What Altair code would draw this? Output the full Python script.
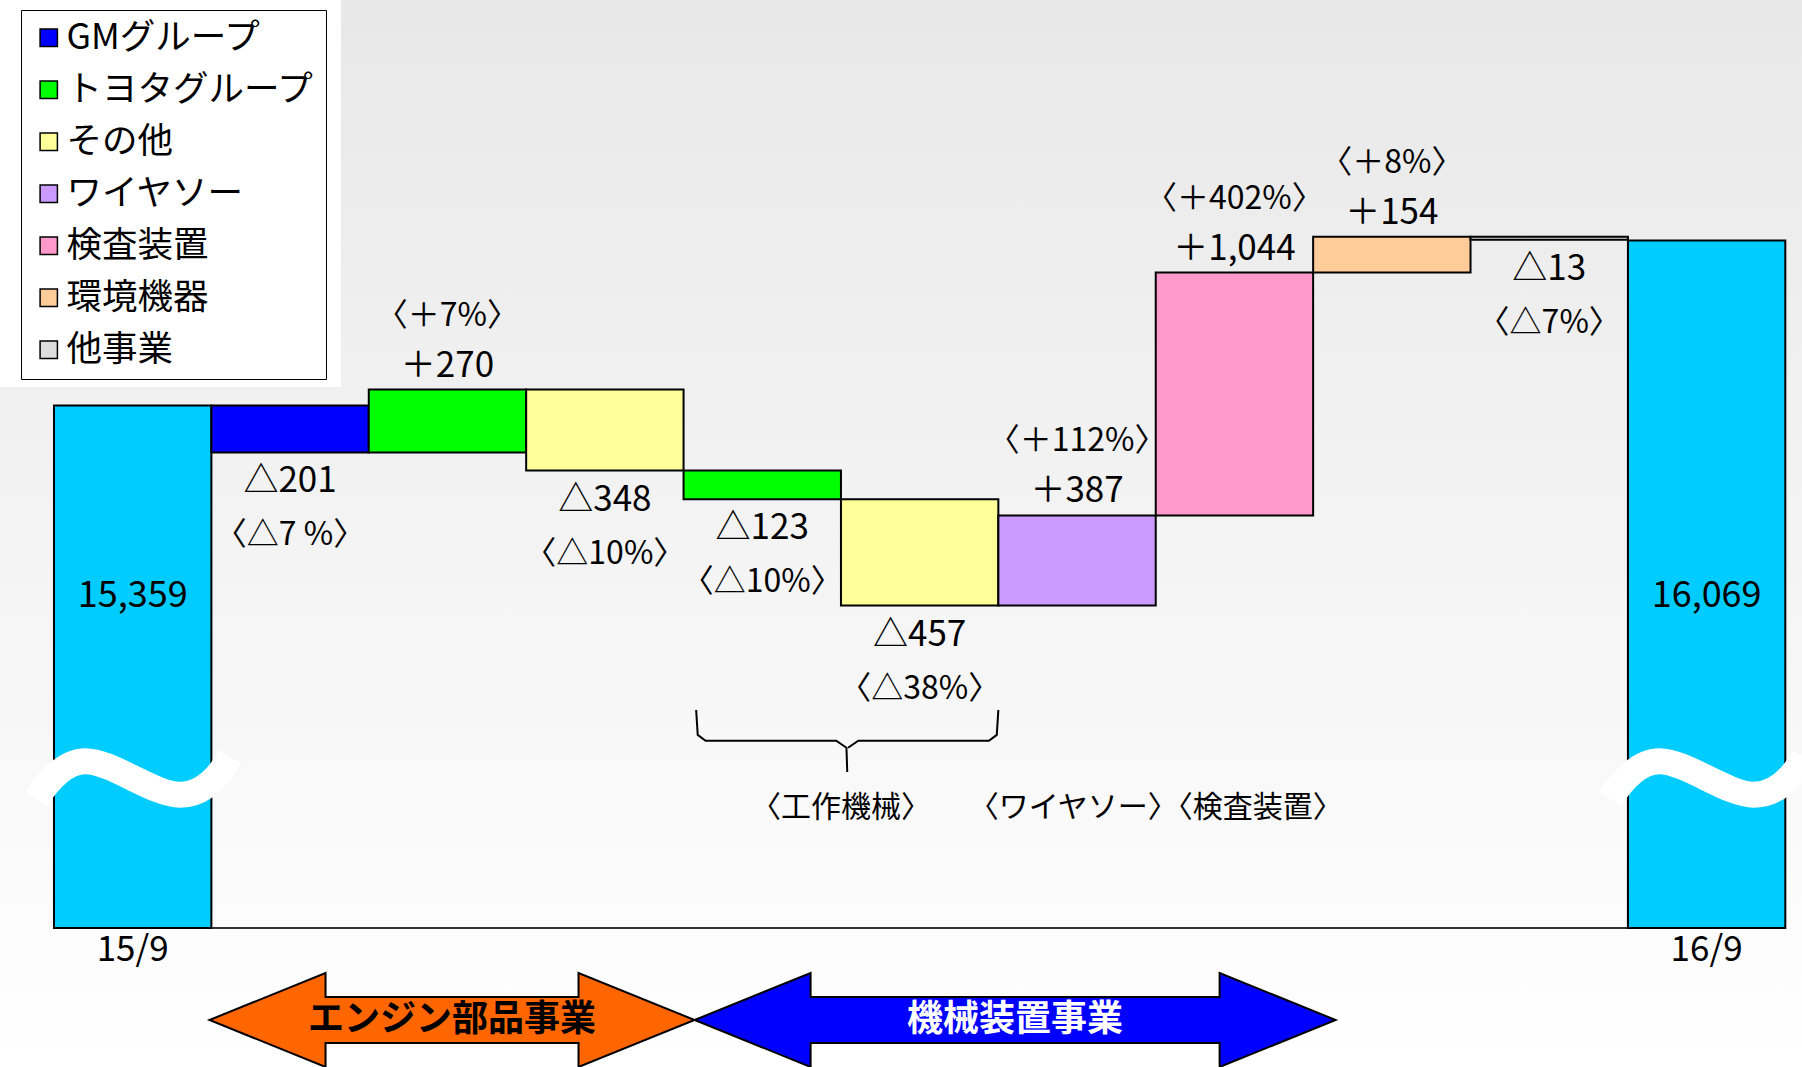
import altair as alt
import pandas as pd

# ---------------- data ----------------
periods = ["15/9", "16/9"]
period_totals = [15359, 16069]

segments = ["GMグループ", "トヨタグループ", "その他", "トヨタグループ", "その他",
            "ワイヤソー", "検査装置", "環境機器", "他事業"]
changes = [-201, 270, -348, -123, -457, 387, 1044, 154, -13]
change_pcts = ["〈△7 %〉", "〈＋7%〉", "〈△10%〉", "〈△10%〉", "〈△38%〉",
               "〈＋112%〉", "〈＋402%〉", "〈＋8%〉", "〈△7%〉"]

legend_items = ["GMグループ", "トヨタグループ", "その他", "ワイヤソー",
                "検査装置", "環境機器", "他事業"]
legend_colors = ["#0000FF", "#00FF00", "#FFFF99", "#CC99FF",
                 "#FF99CC", "#FFCC99", "#DDDDDD"]

businesses = ["エンジン部品事業", "機械装置事業"]
sub_labels = ["〈工作機械〉", "〈ワイヤソー〉〈検査装置〉"]

# ---------------- layout (scale space) ----------------
W, H = 1802, 1067
FONT = "Noto Sans CJK JP"
X_DOMAIN = [-0.343, 11.106]          # bar slots
Y_DOMAIN = [12517, 17102]            # value units (broken axis)
BREAK = 13114                        # where the bars are cut
WAVE_Y = 13759
BASE_LABEL_Y = 14539
SUB_LABEL_Y = 13630
sub_label_slots = [5.0, 7.0]
business_spans = [(0.988, 4.07), (4.07, 8.143)]
business_fill = ["#FF6600", "#0000FF"]
business_text = ["#000000", "#FFFFFF"]
ARROW_MID = 12719
ARROW_W = [485, 641]                 # px, total arrow lengths
ARROW_HEAD_PX, ARROW_HEAD_HALF_PX, ARROW_SHAFT_HALF_PX = 116, 47, 23
BRACE_X = (4.08, 5.04, 6.0)
BRACE_Y = (14051, 13919, 13785)

xs = alt.Scale(domain=X_DOMAIN, nice=False, zero=False)
ys = alt.Scale(domain=Y_DOMAIN, nice=False, zero=False)


def X(f):
    return alt.X(f, type="quantitative", scale=xs, axis=None)


def Y(f):
    return alt.Y(f, type="quantitative", scale=ys, axis=None)


# ---------------- tables ----------------
base_df = pd.DataFrame({
    "period": periods,
    "total": period_totals,
    "slot": [0, len(segments) + 1],
})
base_df["x0"] = base_df["slot"]
base_df["x1"] = base_df["slot"] + 1
base_df["xc"] = base_df["slot"] + 0.5
base_df["lo"] = BREAK
base_df["label"] = [f"{v:,}" for v in period_totals]
base_df["wave"] = WAVE_Y
base_df["lab_y"] = BASE_LABEL_Y

rows = []
running = period_totals[0]
for i, (seg, ch, pc) in enumerate(zip(segments, changes, change_pcts)):
    start, end = running, running + ch
    running = end
    rows.append({
        "segment": seg,
        "x0": i + 1, "x1": i + 2, "xc": i + 1.5,
        "lo": min(start, end), "hi": max(start, end),
        "vlabel": ("＋" if ch > 0 else "△") + f"{abs(ch):,}",
        "plabel": pc,
        "dir": "up" if ch > 0 else "down",
    })
delta_df = pd.DataFrame(rows)

arrow_df = pd.DataFrame({
    "name": businesses,
    "x": [(a + b) / 2 for a, b in business_spans],
    "y": ARROW_MID,
    "fillc": business_fill,
    "tcol": business_text,
})

sub_df = pd.DataFrame({"label": sub_labels, "x": sub_label_slots, "y": SUB_LABEL_Y})

bl, bc, br = BRACE_X
bt, bh, bb = BRACE_Y
brace_df = pd.DataFrame({
    "seg": ["L"] * 6 + ["R"] * 5,
    "ord": list(range(6)) + list(range(5)),
    "x": [bl, bl + 0.01, bl + 0.06, bc - 0.07, bc - 0.005, bc,
          bc + 0.005, bc + 0.07, br - 0.06, br - 0.01, br],
    "y": [bt, bh + 25, bh, bh, bh - 30, bb,
          bh - 30, bh, bh, bh + 25, bt],
})

axis_df = pd.DataFrame({"x0": [0], "x1": [len(segments) + 2], "y": [BREAK]})
legend_bg_df = pd.DataFrame({"x0": [X_DOMAIN[0]], "x1": [1.823], "y0": [15439], "y1": [Y_DOMAIN[1]]})

# ---------------- layers ----------------
gradient = alt.LinearGradient(
    gradient="linear",
    stops=[alt.GradientStop(color="#E8E8E8", offset=0),
           alt.GradientStop(color="#FFFFFF", offset=1)],
    x1=0, x2=0, y1=0, y2=1,
)
background = alt.Chart(axis_df).mark_rect(fill=gradient).encode(
    x=alt.value(0), x2=alt.value("width"), y=alt.value(0), y2=alt.value("height")
)

legend_bg = alt.Chart(legend_bg_df).mark_rect(fill="white").encode(
    x=X("x0"), x2="x1", y=Y("y0"), y2="y1"
)

axis_line = alt.Chart(axis_df).mark_rule(color="#333333", strokeWidth=2).encode(
    x=X("x0"), x2="x1", y=Y("y")
)

base_bars = alt.Chart(base_df).mark_rect(fill="#00CCFF", stroke="black", strokeWidth=2).encode(
    x=X("x0"), x2="x1", y=Y("lo"), y2="total"
)

delta_bars = alt.Chart(delta_df).mark_rect(stroke="black", strokeWidth=2).encode(
    x=X("x0"), x2="x1", y=Y("lo"), y2="hi",
    fill=alt.Fill(
        "segment:N",
        scale=alt.Scale(domain=legend_items, range=legend_colors),
        legend=alt.Legend(
            title=None, orient="none", legendX=21, legendY=10,
            fillColor="white", strokeColor="black", padding=10,
            labelFont=FONT, labelFontSize=35.5, labelLimit=600, labelColor="black",
            labelOffset=0, symbolType="square", symbolSize=300,
            symbolStrokeColor="black", symbolStrokeWidth=1.5, rowPadding=15,
        ),
    ),
)

WAVE_PATH = ("M -0.92 0.2 C -0.75 -0.06 -0.6 -0.16 -0.45 -0.16 "
             "C -0.2 -0.16 0.2 0.16 0.45 0.16 C 0.62 0.16 0.78 0.06 0.93 -0.2")
waves = alt.Chart(base_df).mark_point(
    shape=WAVE_PATH, size=44100, filled=False, fill=None, stroke="white",
    strokeWidth=26, opacity=1, strokeCap="butt",
).encode(x=X("xc"), y=Y("wave"))

base_labels = alt.Chart(base_df).mark_text(font=FONT, fontSize=36, color="black", baseline="middle").encode(
    x=X("xc"), y=Y("lab_y"), text="label:N"
)
period_labels = alt.Chart(base_df).mark_text(font=FONT, fontSize=35, color="black", baseline="middle", dy=22).encode(
    x=X("xc"), y=Y("lo"), text="period:N"
)


def delta_text(direction, field, ycol, dy, size):
    return alt.Chart(delta_df).transform_filter(
        alt.datum.dir == direction
    ).mark_text(font=FONT, fontSize=size, color="black", baseline="middle", dy=dy).encode(
        x=X("xc"), y=Y(ycol), text=f"{field}:N"
    )


labels = [
    delta_text("down", "vlabel", "lo", 29, 35),
    delta_text("down", "plabel", "lo", 83, 32),
    delta_text("up", "vlabel", "hi", -24, 35),
    delta_text("up", "plabel", "hi", -74, 32),
]

brace = alt.Chart(brace_df).mark_line(color="black", strokeWidth=2).encode(
    x=X("x"), y=Y("y"), detail="seg:N", order="ord:Q"
)

sub_text = alt.Chart(sub_df).mark_text(font=FONT, fontSize=30, color="black", baseline="middle").encode(
    x=X("x"), y=Y("y"), text="label:N"
)


def arrow_path(width_px):
    half = width_px / 2.0
    L = ARROW_HEAD_PX / half
    h = ARROW_HEAD_HALF_PX / half
    s = ARROW_SHAFT_HALF_PX / half
    a, b = -1 + L, 1 - L
    return (f"M -1 0 L {a:.4f} {-h:.4f} L {a:.4f} {-s:.4f} L {b:.4f} {-s:.4f} "
            f"L {b:.4f} {-h:.4f} L 1 0 L {b:.4f} {h:.4f} L {b:.4f} {s:.4f} "
            f"L {a:.4f} {s:.4f} L {a:.4f} {h:.4f} Z")


arrow_layers = []
for k in range(len(businesses)):
    arrow_layers.append(
        alt.Chart(arrow_df.iloc[[k]]).mark_point(
            shape=arrow_path(ARROW_W[k]), size=ARROW_W[k] ** 2, filled=True,
            fill=business_fill[k], stroke="black", strokeWidth=2, opacity=1,
        ).encode(x=X("x"), y=Y("y"))
    )

arrow_text = alt.Chart(arrow_df).mark_text(font=FONT, fontSize=36, fontWeight="bold", baseline="middle").encode(
    x=X("x"), y=Y("y"), text="name:N", color=alt.Color("tcol:N", scale=None)
)

chart = alt.layer(
    background, legend_bg, axis_line, base_bars, delta_bars, waves,
    base_labels, period_labels, *labels, brace, sub_text, *arrow_layers, arrow_text,
).properties(
    width=W, height=H, padding=0, autosize=alt.AutoSizeParams(type="none"),
).configure_view(stroke=None)

chart.save("out.html", embed_options={"renderer": "svg", "actions": False})
